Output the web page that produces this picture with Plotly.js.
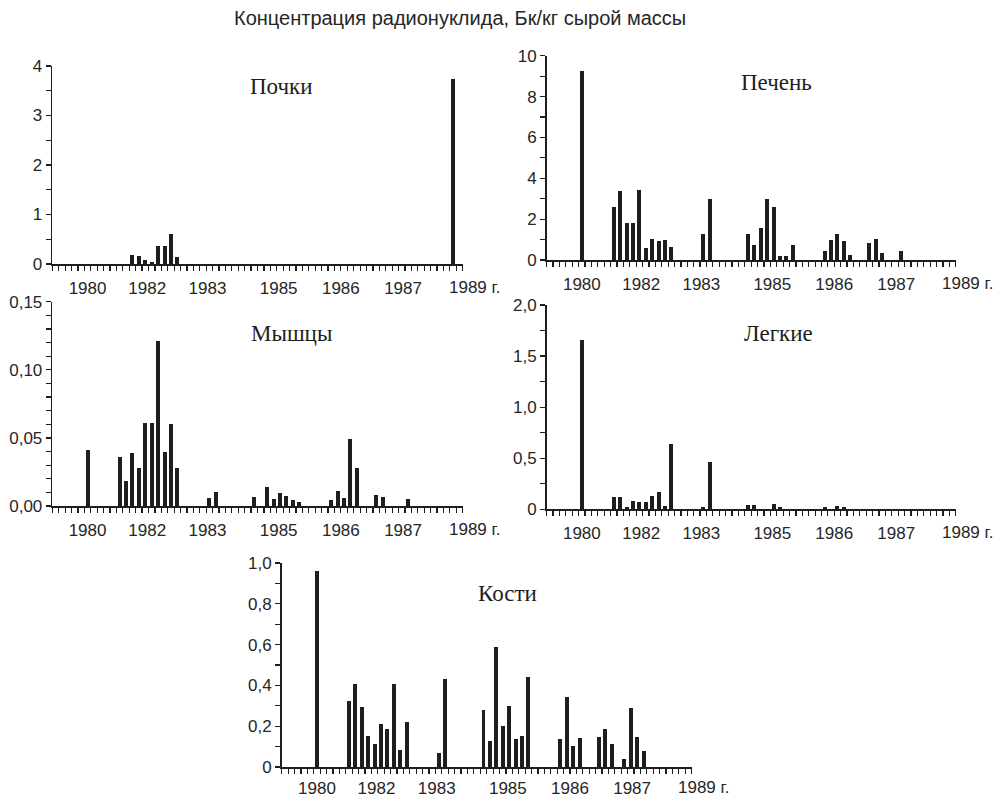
<!DOCTYPE html>
<html>
<head>
<meta charset="utf-8">
<script src="https://cdn.plot.ly/plotly-3.0.1.min.js"></script>
<style>
  html, body { margin: 0; padding: 0; background: #fff; }
  #chart { width: 997px; height: 801px; }
</style>
</head>
<body>
<div id="chart"></div>
<script>
// Sampling periods (index along the time axis) and measured concentrations, Bq/kg wet mass
const kidneyPeriods = [12, 13, 14, 15, 16, 17, 18, 19, 62];
const kidneyValues  = [0.19, 0.17, 0.08, 0.05, 0.37, 0.37, 0.60, 0.14, 3.73];

const liverPeriods = [5, 10, 11, 12, 13, 14, 15, 16, 17, 18, 19, 24, 25,
                      31, 32, 33, 34, 35, 36, 37, 38, 43, 44, 45, 46, 47, 50, 51, 52, 55];
const liverValues  = [9.27, 2.61, 3.36, 1.83, 1.79, 3.43, 0.57, 1.01, 0.91, 0.98, 0.62, 1.26, 3.00,
                      1.29, 0.75, 1.55, 3.00, 2.61, 0.20, 0.20, 0.72, 0.42, 0.98, 1.29, 0.95, 0.23, 0.85, 1.04, 0.36, 0.46];

const musclePeriods = [5, 10, 11, 12, 13, 14, 15, 16, 17, 18, 19, 24, 25,
                       31, 33, 34, 35, 36, 37, 38, 43, 44, 45, 46, 47, 50, 51, 55];
const muscleValues  = [0.041, 0.036, 0.018, 0.039, 0.028, 0.061, 0.061, 0.121, 0.040, 0.060, 0.028, 0.0056, 0.010,
                       0.0064, 0.014, 0.0049, 0.0095, 0.0073, 0.0042, 0.0032, 0.0042, 0.0112, 0.0059, 0.049, 0.028, 0.0081, 0.0066, 0.0051];

const lungPeriods = [5, 10, 11, 12, 13, 14, 15, 16, 17, 18, 19, 24, 25, 31, 32, 35, 36, 43, 45, 46];
const lungValues  = [1.66, 0.124, 0.124, 0.026, 0.078, 0.072, 0.069, 0.134, 0.17, 0.033, 0.64, 0.026, 0.46,
                     0.039, 0.042, 0.055, 0.02, 0.02, 0.033, 0.023];

const bonePeriods = [5, 10, 11, 12, 13, 14, 15, 16, 17, 18, 19, 24, 25,
                     31, 32, 33, 34, 35, 36, 37, 38, 43, 44, 45, 46, 49, 50, 51, 53, 54, 55, 56];
const boneValues  = [0.963, 0.326, 0.407, 0.295, 0.154, 0.112, 0.209, 0.185, 0.407, 0.081, 0.222, 0.067, 0.432,
                     0.278, 0.128, 0.586, 0.203, 0.299, 0.135, 0.151, 0.443, 0.138, 0.344, 0.101, 0.143,
                     0.149, 0.185, 0.115, 0.041, 0.287, 0.149, 0.078];

// Year labels along the period axis
const yearLabels   = ['1980', '1982', '1983', '1985', '1986', '1987'];
const yearPeriods  = [5, 14.3, 23.7, 34.8, 44.5, 54.2];
const lastYearLabel = '1989 г.';

const kidneyTicks = [0, 1, 2, 3, 4];
const kidneyTickText = ['0', '1', '2', '3', '4'];
const liverTicks = [0, 2, 4, 6, 8, 10];
const liverTickText = ['0', '2', '4', '6', '8', '10'];
const muscleTicks = [0, 0.05, 0.10, 0.15];
const muscleTickText = ['0,00', '0,05', '0,10', '0,15'];
const lungTicks = [0, 0.5, 1.0, 1.5, 2.0];
const lungTickText = ['0', '0,5', '1,0', '1,5', '2,0'];
const boneTicks = [0, 0.2, 0.4, 0.6, 0.8, 1.0];
const boneTickText = ['0', '0,2', '0,4', '0,6', '0,8', '1,0'];

const mainTitle = 'Концентрация радионуклида, Бк/кг сырой массы';

// ---- layout of the five panels (pixel geometry of a 997 x 801 page) ----
const W = 997, H = 801;
const INK = '#1e1e1e';
const TEXT = '#262626';
const SANS = '"Liberation Sans", Arial, sans-serif';
const SERIF = '"Liberation Serif", "Times New Roman", serif';
const TICK_SIZE = 17;

const panels = [
  { name: 'Почки',  x: kidneyPeriods, y: kidneyValues, ticks: kidneyTicks, text: kidneyTickText, ymax: 4,    minor: 0.5,
    left: 52.3, right: 462.7, bottom: 264, top: 66,    tx: 281, ty: 86,  standoff: 3 },
  { name: 'Печень', x: liverPeriods,  y: liverValues,  ticks: liverTicks,  text: liverTickText,  ymax: 10,   minor: 1,
    left: 546.7, right: 955.7, bottom: 260, top: 55.7, tx: 776, ty: 82,  standoff: 3 },
  { name: 'Мышцы',  x: musclePeriods, y: muscleValues, ticks: muscleTicks, text: muscleTickText, ymax: 0.15, minor: 0.01,
    left: 52.3, right: 462.7, bottom: 506, top: 301.7, tx: 291, ty: 333, standoff: 3 },
  { name: 'Легкие', x: lungPeriods,   y: lungValues,   ticks: lungTicks,   text: lungTickText,   ymax: 2.0,  minor: 0.25,
    left: 546.7, right: 955.7, bottom: 509.3, top: 305, tx: 778, ty: 333, standoff: 3 },
  { name: 'Кости',  x: bonePeriods,   y: boneValues,   ticks: boneTicks,   text: boneTickText,   ymax: 1.0,  minor: 0.1,
    left: 281.7, right: 691.7, bottom: 767, top: 563, tx: 508, ty: 593, standoff: 0 }
];

const X_RANGE = [-0.5, 63.5];

const data = [];
const layout = {
  width: W, height: H,
  margin: { l: 0, r: 0, t: 0, b: 0 },
  paper_bgcolor: '#fff', plot_bgcolor: '#fff',
  showlegend: false,
  bargap: 0,
  annotations: [],
  font: { family: SANS, size: TICK_SIZE, color: TEXT }
};

panels.forEach((p, i) => {
  const n = i + 1;
  const xa = 'xaxis' + (n === 1 ? '' : n);
  const ya = 'yaxis' + (n === 1 ? '' : n);
  const xr = 'x' + (n === 1 ? '' : n);
  const yr = 'y' + (n === 1 ? '' : n);

  data.push({
    type: 'bar', x: p.x, y: p.y, width: 0.62,
    xaxis: xr, yaxis: yr,
    marker: { color: INK, line: { width: 0 } },
    hoverinfo: 'x+y'
  });

  layout[xa] = {
    domain: [p.left / W, p.right / W],
    anchor: yr,
    range: X_RANGE,
    showline: true, linecolor: INK, linewidth: 1.6,
    showgrid: false, zeroline: false,
    tickmode: 'array', tickvals: yearPeriods, ticktext: yearLabels,
    ticks: 'outside', ticklen: 5, tickcolor: 'rgba(0,0,0,0)',
    ticklabelstandoff: p.standoff,
    tickfont: { family: SANS, size: TICK_SIZE, color: TEXT },
    minor: { tickmode: 'linear', tick0: 0.5, dtick: 1, ticks: 'outside', ticklen: 5, tickwidth: 1.2, tickcolor: INK, showgrid: false }
  };

  layout[ya] = {
    domain: [1 - p.bottom / H, 1 - p.top / H],
    anchor: xr,
    range: [0, p.ymax],
    showline: true, linecolor: INK, linewidth: 1.6,
    showgrid: false, zeroline: false,
    tickmode: 'array', tickvals: p.ticks, ticktext: p.text,
    ticks: 'outside', ticklen: 5, tickwidth: 1.2, tickcolor: INK,
    tickfont: { family: SANS, size: TICK_SIZE, color: TEXT },
    minor: { tickmode: 'linear', tick0: 0, dtick: p.minor, ticks: 'outside', ticklen: 5, tickwidth: 1.2, tickcolor: INK, showgrid: false }
  };

  // organ name inside the panel
  layout.annotations.push({
    xref: 'paper', yref: 'paper', x: p.tx / W, y: 1 - p.ty / H,
    xanchor: 'center', yanchor: 'middle', showarrow: false,
    text: p.name, font: { family: SERIF, size: 23, color: '#1e1e1e' }
  });

  // last year label, written past the end of the axis, on the same line as the other years
  layout.annotations.push({
    xref: xr, yref: yr, x: X_RANGE[1], y: 0,
    xanchor: 'left', yanchor: 'top', xshift: -16, yshift: -9 - p.standoff, showarrow: false,
    text: lastYearLabel, font: { family: SANS, size: TICK_SIZE, color: TEXT }
  });
});

layout.annotations.push({
  xref: 'paper', yref: 'paper', x: 460 / W, y: 1 - 18 / H,
  xanchor: 'center', yanchor: 'middle', showarrow: false,
  text: mainTitle, font: { family: SANS, size: 20, color: TEXT }
});

Plotly.newPlot('chart', data, layout, { staticPlot: true, displayModeBar: false });
</script>
</body>
</html>
